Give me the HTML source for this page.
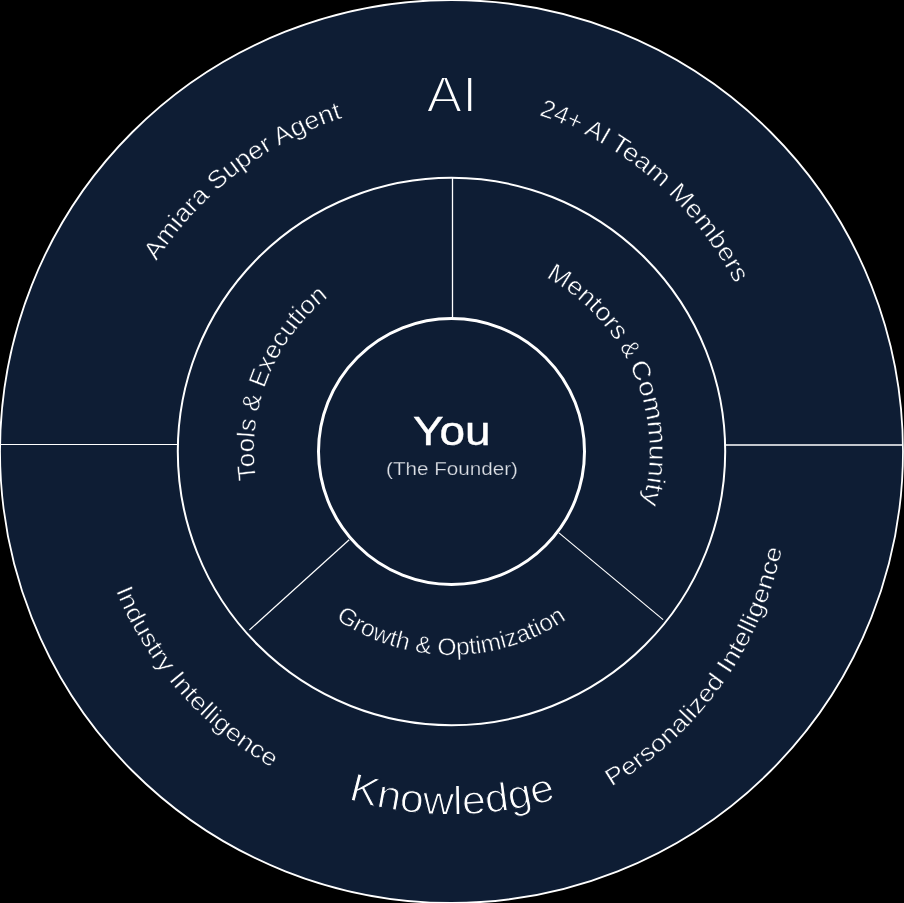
<!DOCTYPE html>
<html><head><meta charset="utf-8"><style>
html,body{margin:0;padding:0;background:#000;width:904px;height:903px;overflow:hidden}
svg{display:block;will-change:transform}
text{font-family:"Liberation Sans", sans-serif;fill:#fff}
.lb{stroke:#0e1d34;stroke-width:0.5px}
</style></head><body>
<svg width="904" height="903" viewBox="0 0 904 903">
<defs><path id="p1" d="M156.46,261.36 A351,351 0 0 1 342.45,117.87"/><path id="p2a" d="M538.75,115.10 A344.7,344.7 0 0 1 604.27,145.10"/><path id="p2b" d="M608.91,147.89 A344.7,344.7 0 0 1 735.11,283.70"/><path id="p3" d="M256.02,479.67 A197.5,197.5 0 0 1 328.28,297.15"/><path id="p4a" d="M545.67,277.33 A198,198 0 0 1 616.03,341.35"/><path id="p4b" d="M619.41,346.58 A198,198 0 0 1 626.81,359.46"/><path id="p4c" d="M629.31,364.39 A198,198 0 0 1 642.39,504.08"/><path id="p5" d="M335.65,618.81 A203.5,203.5 0 0 0 566.47,619.41"/><path id="p6" d="M115.67,590.61 A363.5,363.5 0 0 0 271.95,767.56"/><path id="p7" d="M611.46,786.74 A366.3,366.3 0 0 0 782.06,548.88"/><path id="p8" d="M347.80,799.37 A363,363 0 0 0 556.42,799.01"/></defs>
<circle cx="451.5" cy="451.5" r="451.5" fill="#0e1d34" stroke="#fff" stroke-width="1.8"/>
<line x1="1" y1="444.5" x2="178" y2="444.5" stroke="#fff" stroke-width="1"/>
<line x1="725" y1="445" x2="903" y2="445" stroke="#fff" stroke-width="1.4"/>
<circle cx="451.5" cy="451.5" r="273.7" fill="none" stroke="#fff" stroke-width="2"/>
<line x1="452.5" y1="178" x2="452.5" y2="318" stroke="#fff" stroke-width="1.3"/>
<line x1="249.4" y1="630" x2="349.2" y2="539.8" stroke="#fff" stroke-width="1.2"/>
<line x1="558.9" y1="532.9" x2="663.1" y2="619.6" stroke="#fff" stroke-width="1.2"/>
<circle cx="451.5" cy="451.5" r="133" fill="none" stroke="#fff" stroke-width="3"/>
<text x="426.5" y="111.8" font-size="50.5" textLength="50.5" lengthAdjust="spacingAndGlyphs" style="stroke:#0e1d34;stroke-width:1.8px">AI</text>
<text x="413" y="445" font-size="40" textLength="77.5" lengthAdjust="spacingAndGlyphs" style="stroke:#fff;stroke-width:0.4px">You</text>
<text x="386" y="474.7" font-size="18" textLength="132" lengthAdjust="spacingAndGlyphs" style="fill:#dde0e6;stroke:#0e1d34;stroke-width:0.25px">(The Founder)</text>
<text class="lb" font-size="25"><textPath href="#p1" textLength="239.5" lengthAdjust="spacingAndGlyphs">Amiara Super Agent</textPath></text>
<text class="lb" font-size="25"><textPath href="#p2a" textLength="72.2" lengthAdjust="spacingAndGlyphs">24+ AI</textPath></text>
<text class="lb" font-size="25"><textPath href="#p2b" textLength="187.7" lengthAdjust="spacingAndGlyphs">Team Members</textPath></text>
<text class="lb" font-size="25"><textPath href="#p3" textLength="205.4" lengthAdjust="spacingAndGlyphs">Tools &amp; Execution</textPath></text>
<text class="lb" font-size="25"><textPath href="#p4a" textLength="96.1" lengthAdjust="spacingAndGlyphs">Mentors</textPath></text>
<text class="lb" font-size="25"><textPath href="#p4b" textLength="14.9" lengthAdjust="spacingAndGlyphs">&amp;</textPath></text>
<text class="lb" font-size="25"><textPath href="#p4c" textLength="143.4" lengthAdjust="spacingAndGlyphs">Community</textPath></text>
<text class="lb" font-size="24"><textPath href="#p5" textLength="245.4" lengthAdjust="spacingAndGlyphs">Growth &amp; Optimization</textPath></text>
<text class="lb" font-size="24"><textPath href="#p6" textLength="240.4" lengthAdjust="spacingAndGlyphs">Industry Intelligence</textPath></text>
<text class="lb" font-size="24"><textPath href="#p7" textLength="301.1" lengthAdjust="spacingAndGlyphs">Personalized Intelligence</textPath></text>
<text class="lb" style="stroke-width:1.1px" font-size="40"><textPath href="#p8" textLength="211.6" lengthAdjust="spacingAndGlyphs">Knowledge</textPath></text>

</svg>
</body></html>
